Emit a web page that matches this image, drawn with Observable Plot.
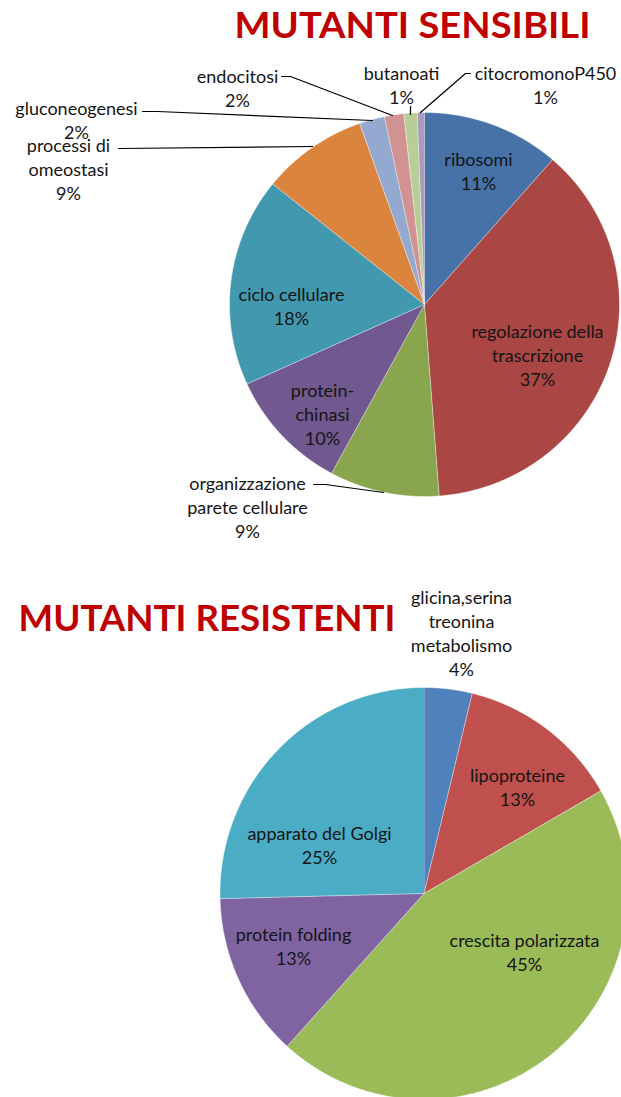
<!DOCTYPE html>
<html><head><meta charset="utf-8">
<script src="https://cdn.jsdelivr.net/npm/d3@7"></script>
<script src="https://cdn.jsdelivr.net/npm/@observablehq/plot@0.6"></script>
<style>html,body{margin:0;padding:0;background:#fff;overflow:hidden}</style>
</head><body><div id="chart"></div>
<script>
// ---- data ----
const sensTitle = "MUTANTI SENSIBILI";
const sensCategories = ["ribosomi", "regolazione della\ntrascrizione", "organizzazione\nparete cellulare", "protein-\nchinasi", "ciclo cellulare", "processi di\nomeostasi", "gluconeogenesi", "endocitosi", "butanoati", "citocromonoP450"];
const sensValues = [11.4, 37.4, 9.1, 10.3, 17.6, 8.8, 2.1, 1.6, 1.1, 0.6];

const resTitle = "MUTANTI RESISTENTI";
const resCategories = ["glicina,serina\ntreonina\nmetabolismo", "lipoproteine", "crescita polarizzata", "protein folding", "apparato del Golgi"];
const resValues = [3.8, 12.9, 45.0, 12.9, 25.4];

// ---- styles / layout ----
const sensColors = ["#4672a8", "#aa4644", "#89a54e", "#71588f", "#4198af", "#db843d", "#93a9cf", "#d19392", "#b9cd96", "#a99bbd"];
const resColors = ["#4f81bd", "#c0504d", "#9bbb59", "#8064a2", "#4bacc6"];
const W = 621, H = 1097;
const sensPie = {cx: 424, cy: 304, rx: 195, ry: 192};
const resPie = {cx: 423.5, cy: 893, rx: 204, ry: 206};
const sensLabelPos = [[478,170],[537,354],[247,506],[322,412.5],[291,305],[68,167.5],[76,118.5],[237,86.5],[401,83.5],[545,83.5]];
const resLabelPos = [[461,631.5],[517,786],[524,950.5],[293,945],[319,844]];
const leaders = [
  [[281,76],[290,76],[392,115]],
  [[142,111],[157,111],[372,120]],
  [[118,148],[312,146]],
  [[410,106],[410,114]],
  [[470,73],[465,73],[420,112]],
  [[313,484],[325,484],[383,492]]
];

function slices(vals, colors, p, id) {
  const arcs = d3.pie().sort(null)(vals);
  const pts = [];
  arcs.forEach((a, i) => {
    const key = id + i;
    pts.push({key, x: p.cx, y: p.cy, fill: colors[i]});
    const n = Math.max(2, Math.ceil((a.endAngle - a.startAngle) / 0.005));
    for (let k = 0; k <= n; k++) {
      const t = a.startAngle + (a.endAngle - a.startAngle) * k / n;
      pts.push({key, x: p.cx + p.rx * Math.sin(t), y: p.cy - p.ry * Math.cos(t), fill: colors[i]});
    }
  });
  return pts;
}
function labels(cats, vals, pos) {
  return cats.map((c, i) => ({x: pos[i][0], y: pos[i][1], text: c + "\n" + Math.round(vals[i]) + "%"}));
}
const slicePts = [...slices(sensValues, sensColors, sensPie, "s"), ...slices(resValues, resColors, resPie, "r")];
const labelData = [...labels(sensCategories, sensValues, sensLabelPos), ...labels(resCategories, resValues, resLabelPos)];
const leaderPts = leaders.flatMap((l, i) => l.map(([x, y]) => ({x, y, k: i})));
const titles = [{x: 234, y: 37, text: sensTitle}, {x: 18, y: 630, text: resTitle}];

const chart = Plot.plot({
  width: W, height: H,
  margin: 0,
  x: {domain: [0, W], range: [0, W], axis: null},
  y: {domain: [0, H], range: [0, H], axis: null},
  color: {type: "identity"},
  style: {background: "#fff"},
  marks: [
    Plot.line(slicePts, {x: "x", y: "y", z: "key", fill: "fill", stroke: "#fff", strokeWidth: 0.8, strokeOpacity: 0.55, curve: "linear"}),
    Plot.line(leaderPts, {x: "x", y: "y", z: "k", stroke: "#000", strokeWidth: 1.2}),
    Plot.text(labelData, {x: "x", y: "y", text: "text", fontSize: 18, lineHeight: 1.34, fill: "#151515", fontFamily: "Lato"}),
    Plot.text(titles, {x: "x", y: "y", text: "text", fontSize: 36, fontWeight: "bold", fill: "#c00000", fontFamily: "Lato", textAnchor: "start", lineAnchor: "bottom"})
  ]
});
document.getElementById("chart").appendChild(chart);
const widths = {[sensTitle]: 356, [resTitle]: 377};
d3.select(chart).selectAll("text").each(function() {
  const t = this.textContent;
  if (widths[t]) { this.setAttribute("textLength", widths[t]); this.setAttribute("lengthAdjust", "spacingAndGlyphs"); }
});
</script></body></html>
